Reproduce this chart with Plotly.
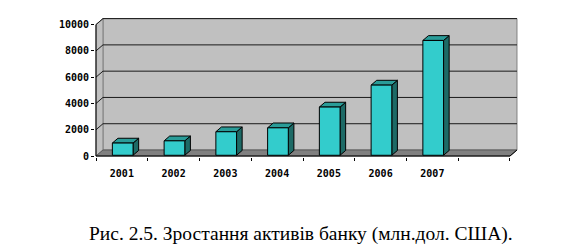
import plotly.graph_objects as go

# ---- data ----
years = ["2001", "2002", "2003", "2004", "2005", "2006", "2007"]
assets = [930, 1100, 1790, 2090, 3670, 5340, 8740]
y_ticks = [0, 2000, 4000, 6000, 8000, 10000]
caption = "Рис. 2.5. Зростання активів банку (млн.дол. США)."

# ---- geometry (data units) ----
n_slots = len(years) + 1          # one empty slot at the right, as in the original
ymax = y_ticks[-1]
DX, DY = 0.135, 457               # depth of the 3-D box
bar_w = 0.40
f_front = 0.12                    # depth of bar front face
f_depth = 0.80                    # bar depth as a fraction of box depth

WALL = "#c0c0c0"
FLOOR = "#808080"
FRONT = "#33cccc"
TOP = "#2a9c98"
SIDE = "#1d6a66"

fig = go.Figure()


def poly(xs, ys, fill, line_color, width=1):
    fig.add_trace(go.Scatter(x=xs, y=ys, mode="lines", fill="toself" if fill else None,
                             fillcolor=fill, line=dict(color=line_color, width=width),
                             hoverinfo="skip", showlegend=False, cliponaxis=False))


def line(xs, ys, color, width=1):
    fig.add_trace(go.Scatter(x=xs, y=ys, mode="lines", line=dict(color=color, width=width),
                             hoverinfo="skip", showlegend=False, cliponaxis=False))


# back wall
poly([DX, n_slots + DX, n_slots + DX, DX, DX], [DY, DY, ymax + DY, ymax + DY, DY], WALL, "#808080")
# left wall
poly([0, DX, DX, 0, 0], [0, DY, ymax + DY, ymax, 0], WALL, "#808080")
# floor
poly([0, n_slots, n_slots + DX, DX, 0], [0, 0, DY, DY, 0], FLOOR, "#5a5a5a")

# gridlines on back wall and left wall
gx, gy = [], []
for v in y_ticks[1:]:
    gx += [0, DX, n_slots + DX, None]
    gy += [v, v + DY, v + DY, None]
line(gx, gy, "#1a1a1a")
# front edges
line([0, 0], [0, ymax], "black")
line([0, n_slots, n_slots + DX], [0, 0, DY], "black")

# bars (3-D columns)
fx, fy, tx, ty, sx, sy = [], [], [], [], [], []
for i, v in enumerate(assets):
    xl = i + 0.5 - bar_w / 2 + f_front * DX
    xr = xl + bar_w
    yb = f_front * DY
    yt = v + f_front * DY
    ddx, ddy = f_depth * DX, f_depth * DY
    fx += [xl, xr, xr, xl, xl, None]
    fy += [yb, yb, yt, yt, yb, None]
    tx += [xl, xr, xr + ddx, xl + ddx, xl, None]
    ty += [yt, yt, yt + ddy, yt + ddy, yt, None]
    sx += [xr, xr + ddx, xr + ddx, xr, xr, None]
    sy += [yb, yb + ddy, yt + ddy, yt, yb, None]
poly(sx, sy, SIDE, "black")
poly(tx, ty, TOP, "black")
poly(fx, fy, FRONT, "black")

tick_font = dict(family="DejaVu Sans Mono", size=10, color="black", weight="bold")

fig.update_layout(
    width=569, height=250,
    margin=dict(l=95, r=47, t=12, b=93),
    paper_bgcolor="white", plot_bgcolor="white",
    showlegend=False,
    xaxis=dict(
        range=[-0.0193, 8.232], showgrid=False, zeroline=False, showline=False,
        tickmode="array", tickvals=[i + 0.5 for i in range(len(years))], ticktext=years,
        ticks="", tickfont=tick_font, ticklabelstandoff=9,
        minor=dict(tickmode="array", tickvals=list(range(n_slots + 1)), ticks="outside",
                   ticklen=3, tickcolor="black", tickwidth=1, showgrid=False),
        fixedrange=True,
    ),
    yaxis=dict(
        range=[-76, 10959], showgrid=False, zeroline=False, showline=False,
        tickmode="array", tickvals=y_ticks, ticktext=[str(v) for v in y_ticks],
        ticks="outside", ticklen=3, tickcolor="black", tickfont=tick_font,
        fixedrange=True,
    ),
    annotations=[dict(
        text=caption, xref="paper", yref="paper", x=0.482, y=-0.531,
        xanchor="center", yanchor="middle", showarrow=False,
        font=dict(family="Liberation Serif", size=19.5, color="black"),
    )],
)

fig.write_html("out.html")
